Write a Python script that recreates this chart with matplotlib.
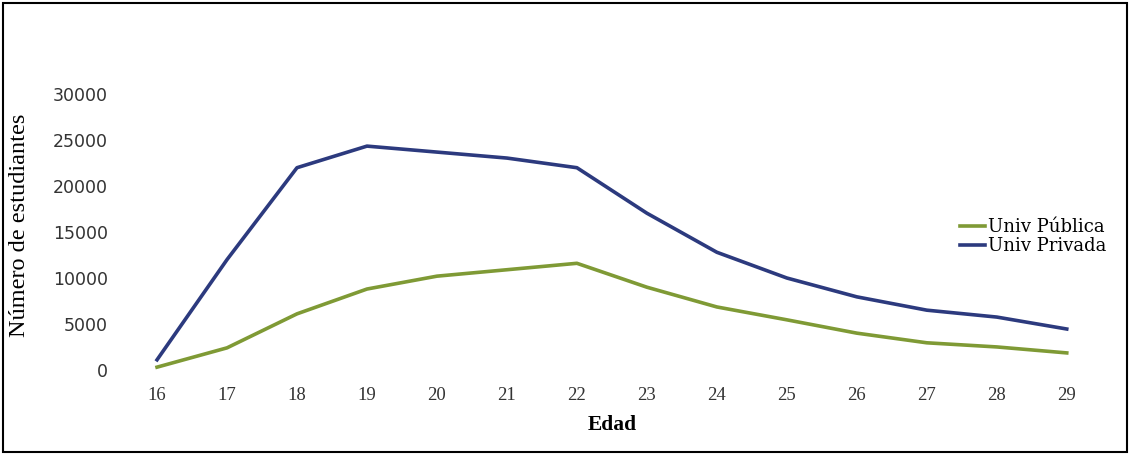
# Importamos Matplotlib para dibujar el grafico de lineas.
import matplotlib.pyplot as plt
from matplotlib.patches import Rectangle

# Datos.
edades = [16, 17, 18, 19, 20, 21, 22, 23, 24, 25, 26, 27, 28, 29]
univ_publica = [300, 2400, 6100, 8800, 10200, 10900, 11600, 9000, 6850, 5450, 4000, 2950, 2500, 1850]
univ_privada = [1100, 12000, 22000, 24350, 23700, 23050, 22000, 17050, 12800, 10000, 7950, 6500, 5750, 4450]
marcas_y = [0, 5000, 10000, 15000, 20000, 25000, 30000]

# Fuente con serifa parecida a la del original.
plt.rcParams["font.family"] = ["Liberation Serif", "DejaVu Serif"]

fig = plt.figure(figsize=(11.3, 4.55), dpi=100)
ax = fig.add_axes([0.108, 0.187, 0.867, 0.707])

# Dibujamos las dos series.
ax.plot(edades, univ_publica, color="#7f9a35", linewidth=2.6, label="Univ Pública")
ax.plot(edades, univ_privada, color="#2c3a7e", linewidth=2.6, label="Univ Privada")

ax.set_xlim(15.5, 29.5)
ax.set_ylim(0, 35000)
ax.set_xticks(edades)
ax.set_xticklabels([str(e) for e in edades], fontsize=13.5, color="#333333")
ax.set_yticks(marcas_y)
ax.set_yticklabels([str(v) for v in marcas_y], fontsize=12.5, color="#333333",
                   family=["DejaVu Sans"])
ax.tick_params(axis="both", length=0)
ax.tick_params(axis="x", pad=12)
ax.tick_params(axis="y", pad=10)

# Sin bordes de ejes.
for lado in ax.spines.values():
    lado.set_visible(False)

ax.set_xlabel("Edad", fontsize=15.5, fontweight="bold", labelpad=8)
fig.text(0.017, 0.505, "Número de estudiantes", rotation=90, fontsize=17.5,
         ha="center", va="center")

# Leyenda a la derecha.
fig.legend(loc="center left", bbox_to_anchor=(0.843, 0.48), frameon=False,
           prop={"family": "DejaVu Serif", "size": 13},
           handlelength=1.4, handletextpad=0.15, labelspacing=0.05,
           borderaxespad=0)

# Marco negro alrededor de la figura.
fig.patches.append(Rectangle((3 / 1130, 3 / 455), 1124 / 1130, 449 / 455,
                             transform=fig.transFigure, fill=False,
                             edgecolor="black", linewidth=1.5))

fig.savefig("out.png", dpi=100)
